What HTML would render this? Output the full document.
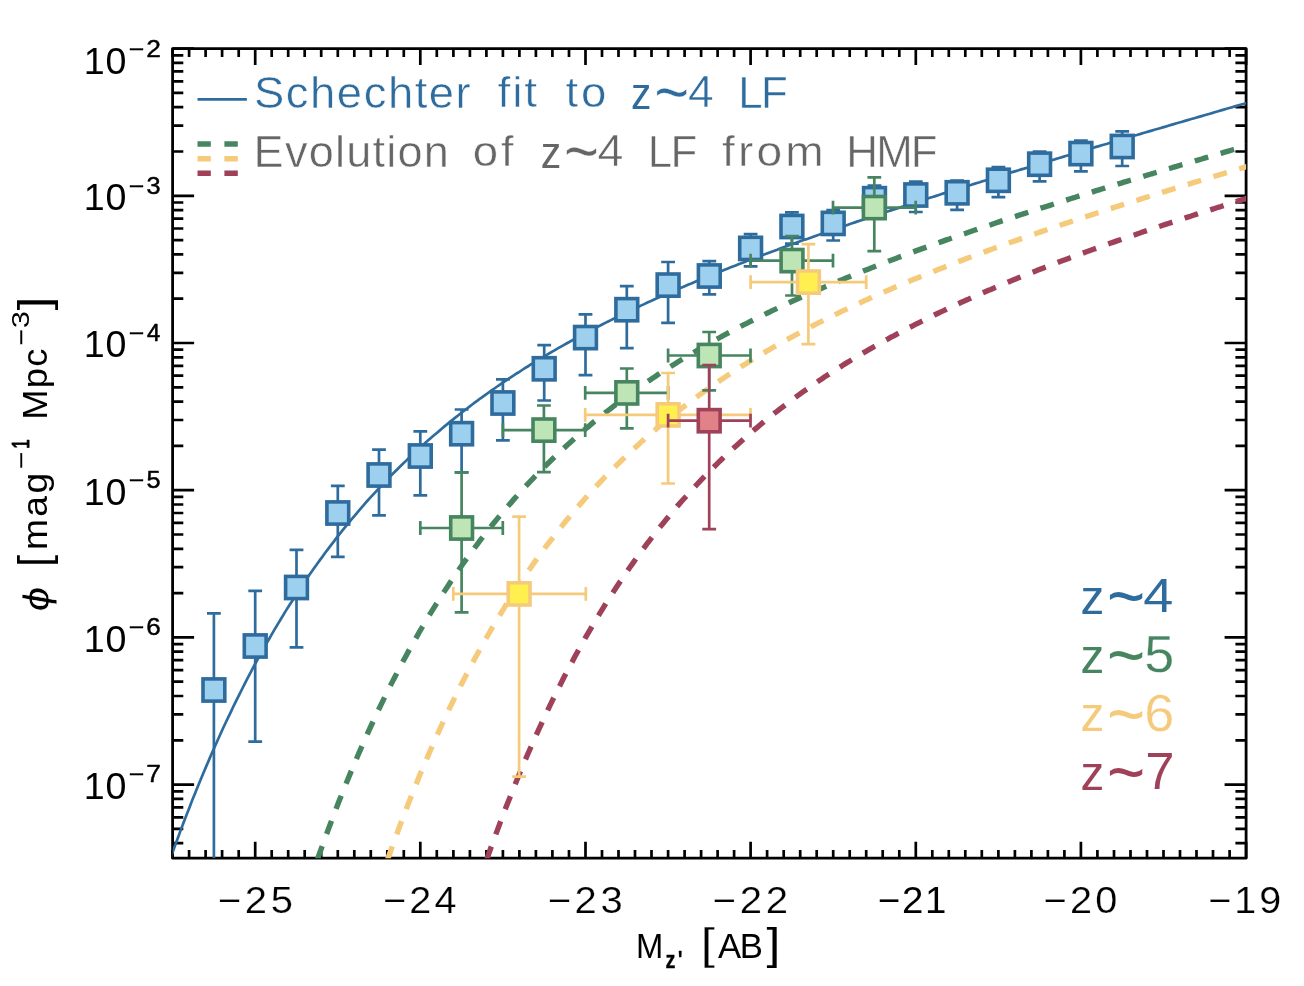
<!DOCTYPE html>
<html><head><meta charset="utf-8"><title>Luminosity function</title>
<style>html,body{margin:0;padding:0;background:#fff}svg{display:block}</style></head>
<body>
<svg width="1304" height="986" viewBox="0 0 1304 986" font-family="'Liberation Sans', sans-serif" style="font-kerning:none">
<rect width="1304" height="986" fill="#fff"/>
<defs><clipPath id="c"><rect x="172.6" y="48.6" width="1073.5" height="809.6"/></clipPath></defs>
<path d="M172.6,858.2v-8.3M172.6,48.6v8.3M189.1,858.2v-8.3M189.1,48.6v8.3M205.6,858.2v-8.3M205.6,48.6v8.3M222.1,858.2v-8.3M222.1,48.6v8.3M238.7,858.2v-8.3M238.7,48.6v8.3M255.2,858.2v-16.5M255.2,48.6v16.5M271.7,858.2v-8.3M271.7,48.6v8.3M288.2,858.2v-8.3M288.2,48.6v8.3M304.7,858.2v-8.3M304.7,48.6v8.3M321.2,858.2v-8.3M321.2,48.6v8.3M337.8,858.2v-8.3M337.8,48.6v8.3M354.3,858.2v-8.3M354.3,48.6v8.3M370.8,858.2v-8.3M370.8,48.6v8.3M387.3,858.2v-8.3M387.3,48.6v8.3M403.8,858.2v-8.3M403.8,48.6v8.3M420.3,858.2v-16.5M420.3,48.6v16.5M436.8,858.2v-8.3M436.8,48.6v8.3M453.4,858.2v-8.3M453.4,48.6v8.3M469.9,858.2v-8.3M469.9,48.6v8.3M486.4,858.2v-8.3M486.4,48.6v8.3M502.9,858.2v-8.3M502.9,48.6v8.3M519.4,858.2v-8.3M519.4,48.6v8.3M535.9,858.2v-8.3M535.9,48.6v8.3M552.4,858.2v-8.3M552.4,48.6v8.3M569.0,858.2v-8.3M569.0,48.6v8.3M585.5,858.2v-16.5M585.5,48.6v16.5M602.0,858.2v-8.3M602.0,48.6v8.3M618.5,858.2v-8.3M618.5,48.6v8.3M635.0,858.2v-8.3M635.0,48.6v8.3M651.5,858.2v-8.3M651.5,48.6v8.3M668.1,858.2v-8.3M668.1,48.6v8.3M684.6,858.2v-8.3M684.6,48.6v8.3M701.1,858.2v-8.3M701.1,48.6v8.3M717.6,858.2v-8.3M717.6,48.6v8.3M734.1,858.2v-8.3M734.1,48.6v8.3M750.6,858.2v-16.5M750.6,48.6v16.5M767.1,858.2v-8.3M767.1,48.6v8.3M783.7,858.2v-8.3M783.7,48.6v8.3M800.2,858.2v-8.3M800.2,48.6v8.3M816.7,858.2v-8.3M816.7,48.6v8.3M833.2,858.2v-8.3M833.2,48.6v8.3M849.7,858.2v-8.3M849.7,48.6v8.3M866.2,858.2v-8.3M866.2,48.6v8.3M882.7,858.2v-8.3M882.7,48.6v8.3M899.3,858.2v-8.3M899.3,48.6v8.3M915.8,858.2v-16.5M915.8,48.6v16.5M932.3,858.2v-8.3M932.3,48.6v8.3M948.8,858.2v-8.3M948.8,48.6v8.3M965.3,858.2v-8.3M965.3,48.6v8.3M981.8,858.2v-8.3M981.8,48.6v8.3M998.4,858.2v-8.3M998.4,48.6v8.3M1014.9,858.2v-8.3M1014.9,48.6v8.3M1031.4,858.2v-8.3M1031.4,48.6v8.3M1047.9,858.2v-8.3M1047.9,48.6v8.3M1064.4,858.2v-8.3M1064.4,48.6v8.3M1080.9,858.2v-16.5M1080.9,48.6v16.5M1097.4,858.2v-8.3M1097.4,48.6v8.3M1114.0,858.2v-8.3M1114.0,48.6v8.3M1130.5,858.2v-8.3M1130.5,48.6v8.3M1147.0,858.2v-8.3M1147.0,48.6v8.3M1163.5,858.2v-8.3M1163.5,48.6v8.3M1180.0,858.2v-8.3M1180.0,48.6v8.3M1196.5,858.2v-8.3M1196.5,48.6v8.3M1213.0,858.2v-8.3M1213.0,48.6v8.3M1229.6,858.2v-8.3M1229.6,48.6v8.3M1246.1,858.2v-16.5M1246.1,48.6v16.5M172.6,843.2h10.7M1246.1,843.2h-10.7M172.6,828.9h10.7M1246.1,828.9h-10.7M172.6,817.3h10.7M1246.1,817.3h-10.7M172.6,807.4h10.7M1246.1,807.4h-10.7M172.6,798.9h10.7M1246.1,798.9h-10.7M172.6,791.3h10.7M1246.1,791.3h-10.7M172.6,784.6h21.5M1246.1,784.6h-21.5M172.6,740.3h10.7M1246.1,740.3h-10.7M172.6,714.4h10.7M1246.1,714.4h-10.7M172.6,696.0h10.7M1246.1,696.0h-10.7M172.6,681.7h10.7M1246.1,681.7h-10.7M172.6,670.1h10.7M1246.1,670.1h-10.7M172.6,660.2h10.7M1246.1,660.2h-10.7M172.6,651.7h10.7M1246.1,651.7h-10.7M172.6,644.1h10.7M1246.1,644.1h-10.7M172.6,637.4h21.5M1246.1,637.4h-21.5M172.6,593.1h10.7M1246.1,593.1h-10.7M172.6,567.2h10.7M1246.1,567.2h-10.7M172.6,548.8h10.7M1246.1,548.8h-10.7M172.6,534.5h10.7M1246.1,534.5h-10.7M172.6,522.9h10.7M1246.1,522.9h-10.7M172.6,513.0h10.7M1246.1,513.0h-10.7M172.6,504.5h10.7M1246.1,504.5h-10.7M172.6,496.9h10.7M1246.1,496.9h-10.7M172.6,490.2h21.5M1246.1,490.2h-21.5M172.6,445.9h10.7M1246.1,445.9h-10.7M172.6,420.0h10.7M1246.1,420.0h-10.7M172.6,401.6h10.7M1246.1,401.6h-10.7M172.6,387.3h10.7M1246.1,387.3h-10.7M172.6,375.7h10.7M1246.1,375.7h-10.7M172.6,365.8h10.7M1246.1,365.8h-10.7M172.6,357.3h10.7M1246.1,357.3h-10.7M172.6,349.7h10.7M1246.1,349.7h-10.7M172.6,343.0h21.5M1246.1,343.0h-21.5M172.6,298.7h10.7M1246.1,298.7h-10.7M172.6,272.8h10.7M1246.1,272.8h-10.7M172.6,254.4h10.7M1246.1,254.4h-10.7M172.6,240.1h10.7M1246.1,240.1h-10.7M172.6,228.5h10.7M1246.1,228.5h-10.7M172.6,218.6h10.7M1246.1,218.6h-10.7M172.6,210.1h10.7M1246.1,210.1h-10.7M172.6,202.5h10.7M1246.1,202.5h-10.7M172.6,195.8h21.5M1246.1,195.8h-21.5M172.6,151.5h10.7M1246.1,151.5h-10.7M172.6,125.6h10.7M1246.1,125.6h-10.7M172.6,107.2h10.7M1246.1,107.2h-10.7M172.6,92.9h10.7M1246.1,92.9h-10.7M172.6,81.3h10.7M1246.1,81.3h-10.7M172.6,71.4h10.7M1246.1,71.4h-10.7M172.6,62.9h10.7M1246.1,62.9h-10.7M172.6,55.3h10.7M1246.1,55.3h-10.7M172.6,48.6h21.5M1246.1,48.6h-21.5" stroke="#000" stroke-width="2.7" fill="none"/>
<rect x="172.6" y="48.6" width="1073.5" height="809.6" fill="none" stroke="#000" stroke-width="2.8" stroke-linejoin="round"/>
<g clip-path="url(#c)" fill="none">
<path d="M156.1,900.2 L158.9,891.9 L161.6,883.7 L164.4,875.6 L167.2,867.6 L170.0,859.7 L172.7,852.0 L175.5,844.3 L178.3,836.8 L181.0,829.4 L183.8,822.0 L186.6,814.8 L189.4,807.7 L192.1,800.6 L194.9,793.7 L197.7,786.8 L200.5,780.1 L203.2,773.4 L206.0,766.9 L208.8,760.4 L211.5,754.0 L214.3,747.7 L217.1,741.5 L219.9,735.3 L222.6,729.3 L225.4,723.3 L228.2,717.4 L231.0,711.6 L233.7,705.8 L236.5,700.2 L239.3,694.6 L242.1,689.0 L244.8,683.6 L247.6,678.2 L250.4,672.9 L253.1,667.7 L255.9,662.5 L258.7,657.4 L261.5,652.4 L264.2,647.4 L267.0,642.5 L269.8,637.7 L272.6,632.9 L275.3,628.2 L278.1,623.6 L280.9,619.0 L283.7,614.4 L286.4,609.9 L289.2,605.5 L292.0,601.2 L294.7,596.8 L297.5,592.6 L300.3,588.4 L303.1,584.2 L305.8,580.1 L308.6,576.1 L311.4,572.1 L314.2,568.1 L316.9,564.2 L319.7,560.4 L322.5,556.6 L325.2,552.8 L328.0,549.1 L330.8,545.4 L333.6,541.8 L336.3,538.2 L339.1,534.7 L341.9,531.2 L344.7,527.7 L347.4,524.3 L350.2,521.0 L353.0,517.6 L355.8,514.3 L358.5,511.1 L361.3,507.9 L364.1,504.7 L366.8,501.5 L369.6,498.4 L372.4,495.4 L375.2,492.3 L377.9,489.3 L380.7,486.4 L383.5,483.4 L386.3,480.5 L389.0,477.7 L391.8,474.8 L394.6,472.0 L397.4,469.2 L400.1,466.5 L402.9,463.8 L405.7,461.1 L408.4,458.4 L411.2,455.8 L414.0,453.2 L416.8,450.7 L419.5,448.1 L422.3,445.6 L425.1,443.1 L427.9,440.6 L430.6,438.2 L433.4,435.8 L436.2,433.4 L439.0,431.1 L441.7,428.7 L444.5,426.4 L447.3,424.1 L450.0,421.8 L452.8,419.6 L455.6,417.4 L458.4,415.2 L461.1,413.0 L463.9,410.9 L466.7,408.7 L469.5,406.6 L472.2,404.5 L475.0,402.4 L477.8,400.4 L480.5,398.3 L483.3,396.3 L486.1,394.3 L488.9,392.4 L491.6,390.4 L494.4,388.5 L497.2,386.5 L500.0,384.6 L502.7,382.7 L505.5,380.9 L508.3,379.0 L511.1,377.2 L513.8,375.4 L516.6,373.5 L519.4,371.8 L522.1,370.0 L524.9,368.2 L527.7,366.5 L530.5,364.7 L533.2,363.0 L536.0,361.3 L538.8,359.6 L541.6,358.0 L544.3,356.3 L547.1,354.7 L549.9,353.0 L552.7,351.4 L555.4,349.8 L558.2,348.2 L561.0,346.6 L563.7,345.1 L566.5,343.5 L569.3,342.0 L572.1,340.4 L574.8,338.9 L577.6,337.4 L580.4,335.9 L583.2,334.4 L585.9,332.9 L588.7,331.5 L591.5,330.0 L594.2,328.5 L597.0,327.1 L599.8,325.7 L602.6,324.3 L605.3,322.9 L608.1,321.5 L610.9,320.1 L613.7,318.7 L616.4,317.3 L619.2,316.0 L622.0,314.6 L624.8,313.3 L627.5,311.9 L630.3,310.6 L633.1,309.3 L635.8,308.0 L638.6,306.7 L641.4,305.4 L644.2,304.1 L646.9,302.8 L649.7,301.6 L652.5,300.3 L655.3,299.1 L658.0,297.8 L660.8,296.6 L663.6,295.3 L666.4,294.1 L669.1,292.9 L671.9,291.7 L674.7,290.5 L677.4,289.3 L680.2,288.1 L683.0,286.9 L685.8,285.7 L688.5,284.5 L691.3,283.4 L694.1,282.2 L696.9,281.0 L699.6,279.9 L702.4,278.7 L705.2,277.6 L708.0,276.5 L710.7,275.3 L713.5,274.2 L716.3,273.1 L719.0,272.0 L721.8,270.9 L724.6,269.8 L727.4,268.7 L730.1,267.6 L732.9,266.5 L735.7,265.4 L738.5,264.3 L741.2,263.3 L744.0,262.2 L746.8,261.1 L749.5,260.1 L752.3,259.0 L755.1,257.9 L757.9,256.9 L760.6,255.9 L763.4,254.8 L766.2,253.8 L769.0,252.7 L771.7,251.7 L774.5,250.7 L777.3,249.7 L780.1,248.6 L782.8,247.6 L785.6,246.6 L788.4,245.6 L791.1,244.6 L793.9,243.6 L796.7,242.6 L799.5,241.6 L802.2,240.6 L805.0,239.6 L807.8,238.7 L810.6,237.7 L813.3,236.7 L816.1,235.7 L818.9,234.8 L821.7,233.8 L824.4,232.8 L827.2,231.9 L830.0,230.9 L832.7,229.9 L835.5,229.0 L838.3,228.0 L841.1,227.1 L843.8,226.1 L846.6,225.2 L849.4,224.2 L852.2,223.3 L854.9,222.4 L857.7,221.4 L860.5,220.5 L863.2,219.6 L866.0,218.6 L868.8,217.7 L871.6,216.8 L874.3,215.9 L877.1,214.9 L879.9,214.0 L882.7,213.1 L885.4,212.2 L888.2,211.3 L891.0,210.4 L893.8,209.5 L896.5,208.6 L899.3,207.7 L902.1,206.8 L904.8,205.9 L907.6,205.0 L910.4,204.1 L913.2,203.2 L915.9,202.3 L918.7,201.4 L921.5,200.5 L924.3,199.6 L927.0,198.7 L929.8,197.8 L932.6,197.0 L935.4,196.1 L938.1,195.2 L940.9,194.3 L943.7,193.4 L946.4,192.6 L949.2,191.7 L952.0,190.8 L954.8,190.0 L957.5,189.1 L960.3,188.2 L963.1,187.3 L965.9,186.5 L968.6,185.6 L971.4,184.8 L974.2,183.9 L977.0,183.0 L979.7,182.2 L982.5,181.3 L985.3,180.5 L988.0,179.6 L990.8,178.7 L993.6,177.9 L996.4,177.0 L999.1,176.2 L1001.9,175.3 L1004.7,174.5 L1007.5,173.6 L1010.2,172.8 L1013.0,171.9 L1015.8,171.1 L1018.5,170.3 L1021.3,169.4 L1024.1,168.6 L1026.9,167.7 L1029.6,166.9 L1032.4,166.0 L1035.2,165.2 L1038.0,164.4 L1040.7,163.5 L1043.5,162.7 L1046.3,161.9 L1049.1,161.0 L1051.8,160.2 L1054.6,159.4 L1057.4,158.5 L1060.1,157.7 L1062.9,156.9 L1065.7,156.0 L1068.5,155.2 L1071.2,154.4 L1074.0,153.5 L1076.8,152.7 L1079.6,151.9 L1082.3,151.1 L1085.1,150.2 L1087.9,149.4 L1090.7,148.6 L1093.4,147.8 L1096.2,146.9 L1099.0,146.1 L1101.7,145.3 L1104.5,144.5 L1107.3,143.7 L1110.1,142.8 L1112.8,142.0 L1115.6,141.2 L1118.4,140.4 L1121.2,139.6 L1123.9,138.8 L1126.7,137.9 L1129.5,137.1 L1132.2,136.3 L1135.0,135.5 L1137.8,134.7 L1140.6,133.9 L1143.3,133.0 L1146.1,132.2 L1148.9,131.4 L1151.7,130.6 L1154.4,129.8 L1157.2,129.0 L1160.0,128.2 L1162.8,127.4 L1165.5,126.6 L1168.3,125.7 L1171.1,124.9 L1173.8,124.1 L1176.6,123.3 L1179.4,122.5 L1182.2,121.7 L1184.9,120.9 L1187.7,120.1 L1190.5,119.3 L1193.3,118.5 L1196.0,117.7 L1198.8,116.9 L1201.6,116.1 L1204.4,115.3 L1207.1,114.5 L1209.9,113.7 L1212.7,112.9 L1215.4,112.0 L1218.2,111.2 L1221.0,110.4 L1223.8,109.6 L1226.5,108.8 L1229.3,108.0 L1232.1,107.2 L1234.9,106.4 L1237.6,105.6 L1240.4,104.8 L1243.2,104.0 L1246.0,103.2 L1248.7,102.4 L1251.5,101.6 L1254.3,100.8 L1257.0,100.0 L1259.8,99.2 L1262.6,98.4" stroke="#2f6c9e" stroke-width="2.7"/>
<path d="M300.3,910.3 L303.1,901.7 L305.8,893.3 L308.6,885.1 L311.4,876.9 L314.2,868.8 L316.9,860.9 L319.7,853.0 L322.5,845.3 L325.2,837.7 L328.0,830.2 L330.8,822.8 L333.6,815.4 L336.3,808.2 L339.1,801.1 L341.9,794.1 L344.7,787.2 L347.4,780.4 L350.2,773.6 L353.0,767.0 L355.8,760.5 L358.5,754.0 L361.3,747.6 L364.1,741.3 L366.8,735.1 L369.6,729.0 L372.4,723.0 L375.2,717.0 L377.9,711.1 L380.7,705.3 L383.5,699.6 L386.3,694.0 L389.0,688.4 L391.8,682.9 L394.6,677.5 L397.4,672.1 L400.1,666.9 L402.9,661.6 L405.7,656.5 L408.4,651.4 L411.2,646.4 L414.0,641.5 L416.8,636.6 L419.5,631.8 L422.3,627.0 L425.1,622.3 L427.9,617.7 L430.6,613.1 L433.4,608.6 L436.2,604.1 L439.0,599.7 L441.7,595.4 L444.5,591.1 L447.3,586.9 L450.0,582.7 L452.8,578.5 L455.6,574.5 L458.4,570.4 L461.1,566.5 L463.9,562.5 L466.7,558.6 L469.5,554.8 L472.2,551.0 L475.0,547.3 L477.8,543.6 L480.5,539.9 L483.3,536.3 L486.1,532.8 L488.9,529.2 L491.6,525.8 L494.4,522.3 L497.2,518.9 L500.0,515.6 L502.7,512.3 L505.5,509.0 L508.3,505.8 L511.1,502.6 L513.8,499.4 L516.6,496.3 L519.4,493.2 L522.1,490.1 L524.9,487.1 L527.7,484.1 L530.5,481.2 L533.2,478.3 L536.0,475.4 L538.8,472.5 L541.6,469.7 L544.3,466.9 L547.1,464.2 L549.9,461.5 L552.7,458.8 L555.4,456.1 L558.2,453.5 L561.0,450.9 L563.7,448.3 L566.5,445.7 L569.3,443.2 L572.1,440.7 L574.8,438.2 L577.6,435.8 L580.4,433.4 L583.2,431.0 L585.9,428.6 L588.7,426.3 L591.5,423.9 L594.2,421.6 L597.0,419.4 L599.8,417.1 L602.6,414.9 L605.3,412.7 L608.1,410.5 L610.9,408.3 L613.7,406.2 L616.4,404.1 L619.2,402.0 L622.0,399.9 L624.8,397.9 L627.5,395.8 L630.3,393.8 L633.1,391.8 L635.8,389.8 L638.6,387.9 L641.4,385.9 L644.2,384.0 L646.9,382.1 L649.7,380.2 L652.5,378.3 L655.3,376.5 L658.0,374.6 L660.8,372.8 L663.6,371.0 L666.4,369.2 L669.1,367.5 L671.9,365.7 L674.7,364.0 L677.4,362.2 L680.2,360.5 L683.0,358.8 L685.8,357.1 L688.5,355.5 L691.3,353.8 L694.1,352.2 L696.9,350.5 L699.6,348.9 L702.4,347.3 L705.2,345.7 L708.0,344.1 L710.7,342.6 L713.5,341.0 L716.3,339.5 L719.0,338.0 L721.8,336.4 L724.6,334.9 L727.4,333.4 L730.1,332.0 L732.9,330.5 L735.7,329.0 L738.5,327.6 L741.2,326.1 L744.0,324.7 L746.8,323.3 L749.5,321.9 L752.3,320.5 L755.1,319.1 L757.9,317.7 L760.6,316.3 L763.4,315.0 L766.2,313.6 L769.0,312.3 L771.7,310.9 L774.5,309.6 L777.3,308.3 L780.1,307.0 L782.8,305.7 L785.6,304.4 L788.4,303.1 L791.1,301.8 L793.9,300.6 L796.7,299.3 L799.5,298.0 L802.2,296.8 L805.0,295.6 L807.8,294.3 L810.6,293.1 L813.3,291.9 L816.1,290.7 L818.9,289.5 L821.7,288.3 L824.4,287.1 L827.2,285.9 L830.0,284.7 L832.7,283.6 L835.5,282.4 L838.3,281.2 L841.1,280.1 L843.8,278.9 L846.6,277.8 L849.4,276.7 L852.2,275.5 L854.9,274.4 L857.7,273.3 L860.5,272.2 L863.2,271.1 L866.0,270.0 L868.8,268.9 L871.6,267.8 L874.3,266.7 L877.1,265.6 L879.9,264.5 L882.7,263.4 L885.4,262.4 L888.2,261.3 L891.0,260.3 L893.8,259.2 L896.5,258.2 L899.3,257.1 L902.1,256.1 L904.8,255.0 L907.6,254.0 L910.4,253.0 L913.2,251.9 L915.9,250.9 L918.7,249.9 L921.5,248.9 L924.3,247.9 L927.0,246.9 L929.8,245.9 L932.6,244.9 L935.4,243.9 L938.1,242.9 L940.9,241.9 L943.7,240.9 L946.4,239.9 L949.2,239.0 L952.0,238.0 L954.8,237.0 L957.5,236.0 L960.3,235.1 L963.1,234.1 L965.9,233.2 L968.6,232.2 L971.4,231.2 L974.2,230.3 L977.0,229.4 L979.7,228.4 L982.5,227.5 L985.3,226.5 L988.0,225.6 L990.8,224.7 L993.6,223.7 L996.4,222.8 L999.1,221.9 L1001.9,220.9 L1004.7,220.0 L1007.5,219.1 L1010.2,218.2 L1013.0,217.3 L1015.8,216.4 L1018.5,215.4 L1021.3,214.5 L1024.1,213.6 L1026.9,212.7 L1029.6,211.8 L1032.4,210.9 L1035.2,210.0 L1038.0,209.1 L1040.7,208.2 L1043.5,207.4 L1046.3,206.5 L1049.1,205.6 L1051.8,204.7 L1054.6,203.8 L1057.4,202.9 L1060.1,202.0 L1062.9,201.2 L1065.7,200.3 L1068.5,199.4 L1071.2,198.5 L1074.0,197.7 L1076.8,196.8 L1079.6,195.9 L1082.3,195.1 L1085.1,194.2 L1087.9,193.3 L1090.7,192.5 L1093.4,191.6 L1096.2,190.7 L1099.0,189.9 L1101.7,189.0 L1104.5,188.2 L1107.3,187.3 L1110.1,186.5 L1112.8,185.6 L1115.6,184.8 L1118.4,183.9 L1121.2,183.1 L1123.9,182.2 L1126.7,181.4 L1129.5,180.5 L1132.2,179.7 L1135.0,178.9 L1137.8,178.0 L1140.6,177.2 L1143.3,176.3 L1146.1,175.5 L1148.9,174.7 L1151.7,173.8 L1154.4,173.0 L1157.2,172.2 L1160.0,171.3 L1162.8,170.5 L1165.5,169.7 L1168.3,168.8 L1171.1,168.0 L1173.8,167.2 L1176.6,166.4 L1179.4,165.5 L1182.2,164.7 L1184.9,163.9 L1187.7,163.1 L1190.5,162.2 L1193.3,161.4 L1196.0,160.6 L1198.8,159.8 L1201.6,159.0 L1204.4,158.1 L1207.1,157.3 L1209.9,156.5 L1212.7,155.7 L1215.4,154.9 L1218.2,154.1 L1221.0,153.3 L1223.8,152.4 L1226.5,151.6 L1229.3,150.8 L1232.1,150.0 L1234.9,149.2 L1237.6,148.4 L1240.4,147.6 L1243.2,146.8 L1246.0,146.0 L1248.7,145.2 L1251.5,144.4 L1254.3,143.6 L1257.0,142.8 L1259.8,141.9 L1262.6,141.1" stroke="#478560" stroke-width="5.4" stroke-dasharray="14 12.9" stroke-dashoffset="0"/>
<path d="M369.6,912.9 L372.4,904.3 L375.2,895.9 L377.9,887.6 L380.7,879.4 L383.5,871.3 L386.3,863.3 L389.0,855.5 L391.8,847.7 L394.6,840.1 L397.4,832.5 L400.1,825.1 L402.9,817.8 L405.7,810.5 L408.4,803.4 L411.2,796.4 L414.0,789.4 L416.8,782.6 L419.5,775.8 L422.3,769.2 L425.1,762.6 L427.9,756.1 L430.6,749.7 L433.4,743.4 L436.2,737.2 L439.0,731.1 L441.7,725.0 L444.5,719.0 L447.3,713.1 L450.0,707.3 L452.8,701.6 L455.6,695.9 L458.4,690.3 L461.1,684.8 L463.9,679.4 L466.7,674.0 L469.5,668.7 L472.2,663.5 L475.0,658.3 L477.8,653.2 L480.5,648.2 L483.3,643.2 L486.1,638.3 L488.9,633.5 L491.6,628.7 L494.4,624.0 L497.2,619.4 L500.0,614.8 L502.7,610.3 L505.5,605.8 L508.3,601.4 L511.1,597.0 L513.8,592.7 L516.6,588.4 L519.4,584.3 L522.1,580.1 L524.9,576.0 L527.7,572.0 L530.5,568.0 L533.2,564.0 L536.0,560.1 L538.8,556.3 L541.6,552.5 L544.3,548.8 L547.1,545.0 L549.9,541.4 L552.7,537.8 L555.4,534.2 L558.2,530.7 L561.0,527.2 L563.7,523.7 L566.5,520.3 L569.3,517.0 L572.1,513.6 L574.8,510.4 L577.6,507.1 L580.4,503.9 L583.2,500.7 L585.9,497.6 L588.7,494.5 L591.5,491.4 L594.2,488.4 L597.0,485.4 L599.8,482.5 L602.6,479.5 L605.3,476.6 L608.1,473.8 L610.9,471.0 L613.7,468.2 L616.4,465.4 L619.2,462.7 L622.0,460.0 L624.8,457.3 L627.5,454.6 L630.3,452.0 L633.1,449.4 L635.8,446.9 L638.6,444.4 L641.4,441.8 L644.2,439.4 L646.9,436.9 L649.7,434.5 L652.5,432.1 L655.3,429.7 L658.0,427.4 L660.8,425.0 L663.6,422.7 L666.4,420.5 L669.1,418.2 L671.9,416.0 L674.7,413.8 L677.4,411.6 L680.2,409.4 L683.0,407.3 L685.8,405.1 L688.5,403.0 L691.3,401.0 L694.1,398.9 L696.9,396.8 L699.6,394.8 L702.4,392.8 L705.2,390.8 L708.0,388.9 L710.7,386.9 L713.5,385.0 L716.3,383.1 L719.0,381.2 L721.8,379.3 L724.6,377.4 L727.4,375.6 L730.1,373.8 L732.9,372.0 L735.7,370.2 L738.5,368.4 L741.2,366.6 L744.0,364.9 L746.8,363.2 L749.5,361.4 L752.3,359.7 L755.1,358.0 L757.9,356.4 L760.6,354.7 L763.4,353.1 L766.2,351.4 L769.0,349.8 L771.7,348.2 L774.5,346.6 L777.3,345.0 L780.1,343.5 L782.8,341.9 L785.6,340.3 L788.4,338.8 L791.1,337.3 L793.9,335.8 L796.7,334.3 L799.5,332.8 L802.2,331.3 L805.0,329.9 L807.8,328.4 L810.6,327.0 L813.3,325.5 L816.1,324.1 L818.9,322.7 L821.7,321.3 L824.4,319.9 L827.2,318.5 L830.0,317.1 L832.7,315.8 L835.5,314.4 L838.3,313.1 L841.1,311.7 L843.8,310.4 L846.6,309.1 L849.4,307.8 L852.2,306.5 L854.9,305.2 L857.7,303.9 L860.5,302.6 L863.2,301.3 L866.0,300.1 L868.8,298.8 L871.6,297.6 L874.3,296.3 L877.1,295.1 L879.9,293.9 L882.7,292.6 L885.4,291.4 L888.2,290.2 L891.0,289.0 L893.8,287.8 L896.5,286.6 L899.3,285.5 L902.1,284.3 L904.8,283.1 L907.6,281.9 L910.4,280.8 L913.2,279.6 L915.9,278.5 L918.7,277.4 L921.5,276.2 L924.3,275.1 L927.0,274.0 L929.8,272.9 L932.6,271.8 L935.4,270.7 L938.1,269.6 L940.9,268.5 L943.7,267.4 L946.4,266.3 L949.2,265.2 L952.0,264.1 L954.8,263.1 L957.5,262.0 L960.3,260.9 L963.1,259.9 L965.9,258.8 L968.6,257.8 L971.4,256.7 L974.2,255.7 L977.0,254.7 L979.7,253.6 L982.5,252.6 L985.3,251.6 L988.0,250.6 L990.8,249.5 L993.6,248.5 L996.4,247.5 L999.1,246.5 L1001.9,245.5 L1004.7,244.5 L1007.5,243.5 L1010.2,242.5 L1013.0,241.5 L1015.8,240.6 L1018.5,239.6 L1021.3,238.6 L1024.1,237.6 L1026.9,236.7 L1029.6,235.7 L1032.4,234.7 L1035.2,233.8 L1038.0,232.8 L1040.7,231.9 L1043.5,230.9 L1046.3,230.0 L1049.1,229.0 L1051.8,228.1 L1054.6,227.1 L1057.4,226.2 L1060.1,225.2 L1062.9,224.3 L1065.7,223.4 L1068.5,222.5 L1071.2,221.5 L1074.0,220.6 L1076.8,219.7 L1079.6,218.8 L1082.3,217.8 L1085.1,216.9 L1087.9,216.0 L1090.7,215.1 L1093.4,214.2 L1096.2,213.3 L1099.0,212.4 L1101.7,211.5 L1104.5,210.6 L1107.3,209.7 L1110.1,208.8 L1112.8,207.9 L1115.6,207.0 L1118.4,206.1 L1121.2,205.2 L1123.9,204.4 L1126.7,203.5 L1129.5,202.6 L1132.2,201.7 L1135.0,200.8 L1137.8,200.0 L1140.6,199.1 L1143.3,198.2 L1146.1,197.3 L1148.9,196.5 L1151.7,195.6 L1154.4,194.7 L1157.2,193.9 L1160.0,193.0 L1162.8,192.1 L1165.5,191.3 L1168.3,190.4 L1171.1,189.6 L1173.8,188.7 L1176.6,187.8 L1179.4,187.0 L1182.2,186.1 L1184.9,185.3 L1187.7,184.4 L1190.5,183.6 L1193.3,182.7 L1196.0,181.9 L1198.8,181.0 L1201.6,180.2 L1204.4,179.4 L1207.1,178.5 L1209.9,177.7 L1212.7,176.8 L1215.4,176.0 L1218.2,175.2 L1221.0,174.3 L1223.8,173.5 L1226.5,172.6 L1229.3,171.8 L1232.1,171.0 L1234.9,170.2 L1237.6,169.3 L1240.4,168.5 L1243.2,167.7 L1246.0,166.8 L1248.7,166.0 L1251.5,165.2 L1254.3,164.4 L1257.0,163.5 L1259.8,162.7 L1262.6,161.9" stroke="#f5ca7b" stroke-width="5.4" stroke-dasharray="14 12.9" stroke-dashoffset="-2.5"/>
<path d="M469.5,910.7 L472.2,902.2 L475.0,893.8 L477.8,885.5 L480.5,877.3 L483.3,869.2 L486.1,861.3 L488.9,853.4 L491.6,845.7 L494.4,838.1 L497.2,830.6 L500.0,823.1 L502.7,815.8 L505.5,808.6 L508.3,801.5 L511.1,794.5 L513.8,787.6 L516.6,780.7 L519.4,774.0 L522.1,767.4 L524.9,760.8 L527.7,754.3 L530.5,748.0 L533.2,741.7 L536.0,735.5 L538.8,729.3 L541.6,723.3 L544.3,717.3 L547.1,711.5 L549.9,705.7 L552.7,699.9 L555.4,694.3 L558.2,688.7 L561.0,683.2 L563.7,677.8 L566.5,672.5 L569.3,667.2 L572.1,662.0 L574.8,656.8 L577.6,651.7 L580.4,646.7 L583.2,641.8 L585.9,636.9 L588.7,632.1 L591.5,627.3 L594.2,622.6 L597.0,618.0 L599.8,613.4 L602.6,608.9 L605.3,604.4 L608.1,600.0 L610.9,595.7 L613.7,591.4 L616.4,587.2 L619.2,583.0 L622.0,578.9 L624.8,574.8 L627.5,570.8 L630.3,566.8 L633.1,562.9 L635.8,559.0 L638.6,555.1 L641.4,551.4 L644.2,547.6 L646.9,543.9 L649.7,540.3 L652.5,536.7 L655.3,533.1 L658.0,529.6 L660.8,526.1 L663.6,522.7 L666.4,519.3 L669.1,516.0 L671.9,512.6 L674.7,509.4 L677.4,506.1 L680.2,502.9 L683.0,499.8 L685.8,496.7 L688.5,493.6 L691.3,490.5 L694.1,487.5 L696.9,484.5 L699.6,481.6 L702.4,478.7 L705.2,475.8 L708.0,473.0 L710.7,470.1 L713.5,467.4 L716.3,464.6 L719.0,461.9 L721.8,459.2 L724.6,456.5 L727.4,453.9 L730.1,451.3 L732.9,448.7 L735.7,446.2 L738.5,443.7 L741.2,441.2 L744.0,438.7 L746.8,436.3 L749.5,433.9 L752.3,431.5 L755.1,429.1 L757.9,426.8 L760.6,424.5 L763.4,422.2 L766.2,419.9 L769.0,417.6 L771.7,415.4 L774.5,413.2 L777.3,411.1 L780.1,408.9 L782.8,406.8 L785.6,404.7 L788.4,402.6 L791.1,400.5 L793.9,398.4 L796.7,396.4 L799.5,394.4 L802.2,392.4 L805.0,390.4 L807.8,388.5 L810.6,386.5 L813.3,384.6 L816.1,382.7 L818.9,380.8 L821.7,379.0 L824.4,377.1 L827.2,375.3 L830.0,373.5 L832.7,371.7 L835.5,369.9 L838.3,368.1 L841.1,366.4 L843.8,364.6 L846.6,362.9 L849.4,361.2 L852.2,359.5 L854.9,357.9 L857.7,356.2 L860.5,354.5 L863.2,352.9 L866.0,351.3 L868.8,349.7 L871.6,348.1 L874.3,346.5 L877.1,344.9 L879.9,343.4 L882.7,341.8 L885.4,340.3 L888.2,338.8 L891.0,337.2 L893.8,335.8 L896.5,334.3 L899.3,332.8 L902.1,331.3 L904.8,329.9 L907.6,328.4 L910.4,327.0 L913.2,325.6 L915.9,324.2 L918.7,322.8 L921.5,321.4 L924.3,320.0 L927.0,318.6 L929.8,317.2 L932.6,315.9 L935.4,314.5 L938.1,313.2 L940.9,311.9 L943.7,310.6 L946.4,309.3 L949.2,307.9 L952.0,306.7 L954.8,305.4 L957.5,304.1 L960.3,302.8 L963.1,301.6 L965.9,300.3 L968.6,299.1 L971.4,297.8 L974.2,296.6 L977.0,295.4 L979.7,294.2 L982.5,292.9 L985.3,291.7 L988.0,290.5 L990.8,289.4 L993.6,288.2 L996.4,287.0 L999.1,285.8 L1001.9,284.7 L1004.7,283.5 L1007.5,282.4 L1010.2,281.2 L1013.0,280.1 L1015.8,278.9 L1018.5,277.8 L1021.3,276.7 L1024.1,275.6 L1026.9,274.5 L1029.6,273.4 L1032.4,272.3 L1035.2,271.2 L1038.0,270.1 L1040.7,269.0 L1043.5,267.9 L1046.3,266.8 L1049.1,265.8 L1051.8,264.7 L1054.6,263.7 L1057.4,262.6 L1060.1,261.5 L1062.9,260.5 L1065.7,259.5 L1068.5,258.4 L1071.2,257.4 L1074.0,256.4 L1076.8,255.3 L1079.6,254.3 L1082.3,253.3 L1085.1,252.3 L1087.9,251.3 L1090.7,250.3 L1093.4,249.3 L1096.2,248.3 L1099.0,247.3 L1101.7,246.3 L1104.5,245.3 L1107.3,244.3 L1110.1,243.3 L1112.8,242.4 L1115.6,241.4 L1118.4,240.4 L1121.2,239.5 L1123.9,238.5 L1126.7,237.5 L1129.5,236.6 L1132.2,235.6 L1135.0,234.7 L1137.8,233.7 L1140.6,232.8 L1143.3,231.8 L1146.1,230.9 L1148.9,230.0 L1151.7,229.0 L1154.4,228.1 L1157.2,227.2 L1160.0,226.2 L1162.8,225.3 L1165.5,224.4 L1168.3,223.5 L1171.1,222.6 L1173.8,221.7 L1176.6,220.7 L1179.4,219.8 L1182.2,218.9 L1184.9,218.0 L1187.7,217.1 L1190.5,216.2 L1193.3,215.3 L1196.0,214.4 L1198.8,213.5 L1201.6,212.6 L1204.4,211.8 L1207.1,210.9 L1209.9,210.0 L1212.7,209.1 L1215.4,208.2 L1218.2,207.3 L1221.0,206.5 L1223.8,205.6 L1226.5,204.7 L1229.3,203.8 L1232.1,203.0 L1234.9,202.1 L1237.6,201.2 L1240.4,200.4 L1243.2,199.5 L1246.0,198.7 L1248.7,197.8 L1251.5,196.9 L1254.3,196.1 L1257.0,195.2 L1259.8,194.4 L1262.6,193.5" stroke="#9e4159" stroke-width="5.4" stroke-dasharray="14 12.9" stroke-dashoffset="0"/>
</g>
<g clip-path="url(#c)">
<path d="M213.9,613.3V858.2M207.0,613.3h13.8" stroke="#2f6c9e" stroke-width="2.7" fill="none"/><rect x="203.0" y="678.9" width="21.8" height="22.2" fill="#9dcfee" stroke="#2f6c9e" stroke-width="3.6"/>
<path d="M255.2,590.8V741.6M248.3,590.8h13.8M248.3,741.6h13.8" stroke="#2f6c9e" stroke-width="2.7" fill="none"/><rect x="244.3" y="634.9" width="21.8" height="22.2" fill="#9dcfee" stroke="#2f6c9e" stroke-width="3.6"/>
<path d="M296.5,549.8V647.3M289.6,549.8h13.8M289.6,647.3h13.8" stroke="#2f6c9e" stroke-width="2.7" fill="none"/><rect x="285.6" y="576.4" width="21.8" height="22.2" fill="#9dcfee" stroke="#2f6c9e" stroke-width="3.6"/>
<path d="M337.8,485.9V556.9M330.9,485.9h13.8M330.9,556.9h13.8" stroke="#2f6c9e" stroke-width="2.7" fill="none"/><rect x="326.9" y="501.9" width="21.8" height="22.2" fill="#9dcfee" stroke="#2f6c9e" stroke-width="3.6"/>
<path d="M379.0,449.6V515.3M372.1,449.6h13.8M372.1,515.3h13.8" stroke="#2f6c9e" stroke-width="2.7" fill="none"/><rect x="368.1" y="463.9" width="21.8" height="22.2" fill="#9dcfee" stroke="#2f6c9e" stroke-width="3.6"/>
<path d="M420.3,431.4V495.3M413.4,431.4h13.8M413.4,495.3h13.8" stroke="#2f6c9e" stroke-width="2.7" fill="none"/><rect x="409.4" y="444.9" width="21.8" height="22.2" fill="#9dcfee" stroke="#2f6c9e" stroke-width="3.6"/>
<path d="M461.6,409.5V472.3M454.7,409.5h13.8M454.7,472.3h13.8" stroke="#2f6c9e" stroke-width="2.7" fill="none"/><rect x="450.7" y="422.6" width="21.8" height="22.2" fill="#9dcfee" stroke="#2f6c9e" stroke-width="3.6"/>
<path d="M502.9,379.4V440.3M496.0,379.4h13.8M496.0,440.3h13.8" stroke="#2f6c9e" stroke-width="2.7" fill="none"/><rect x="492.0" y="391.9" width="21.8" height="22.2" fill="#9dcfee" stroke="#2f6c9e" stroke-width="3.6"/>
<path d="M544.2,345.2V400.5M537.3,345.2h13.8M537.3,400.5h13.8" stroke="#2f6c9e" stroke-width="2.7" fill="none"/><rect x="533.3" y="357.7" width="21.8" height="22.2" fill="#9dcfee" stroke="#2f6c9e" stroke-width="3.6"/>
<path d="M585.5,314.3V375.1M578.6,314.3h13.8M578.6,375.1h13.8" stroke="#2f6c9e" stroke-width="2.7" fill="none"/><rect x="574.6" y="326.5" width="21.8" height="22.2" fill="#9dcfee" stroke="#2f6c9e" stroke-width="3.6"/>
<path d="M626.8,286.1V348.2M619.9,286.1h13.8M619.9,348.2h13.8" stroke="#2f6c9e" stroke-width="2.7" fill="none"/><rect x="615.9" y="298.6" width="21.8" height="22.2" fill="#9dcfee" stroke="#2f6c9e" stroke-width="3.6"/>
<path d="M668.1,262.0V322.9M661.2,262.0h13.8M661.2,322.9h13.8" stroke="#2f6c9e" stroke-width="2.7" fill="none"/><rect x="657.2" y="274.0" width="21.8" height="22.2" fill="#9dcfee" stroke="#2f6c9e" stroke-width="3.6"/>
<path d="M709.3,261.2V294.3M702.4,261.2h13.8M702.4,294.3h13.8" stroke="#2f6c9e" stroke-width="2.7" fill="none"/><rect x="698.4" y="264.9" width="21.8" height="22.2" fill="#9dcfee" stroke="#2f6c9e" stroke-width="3.6"/>
<path d="M750.6,234.2V266.4M743.7,234.2h13.8M743.7,266.4h13.8" stroke="#2f6c9e" stroke-width="2.7" fill="none"/><rect x="739.7" y="237.3" width="21.8" height="22.2" fill="#9dcfee" stroke="#2f6c9e" stroke-width="3.6"/>
<path d="M791.9,212.4V243.6M785.0,212.4h13.8M785.0,243.6h13.8" stroke="#2f6c9e" stroke-width="2.7" fill="none"/><rect x="781.0" y="215.4" width="21.8" height="22.2" fill="#9dcfee" stroke="#2f6c9e" stroke-width="3.6"/>
<path d="M833.2,210.2V240.5M826.3,210.2h13.8M826.3,240.5h13.8" stroke="#2f6c9e" stroke-width="2.7" fill="none"/><rect x="822.3" y="212.3" width="21.8" height="22.2" fill="#9dcfee" stroke="#2f6c9e" stroke-width="3.6"/>
<path d="M874.5,185.5V214.0M867.6,185.5h13.8M867.6,214.0h13.8" stroke="#2f6c9e" stroke-width="2.7" fill="none"/><rect x="863.6" y="187.6" width="21.8" height="22.2" fill="#9dcfee" stroke="#2f6c9e" stroke-width="3.6"/>
<path d="M915.8,181.7V212.0M908.9,181.7h13.8M908.9,212.0h13.8" stroke="#2f6c9e" stroke-width="2.7" fill="none"/><rect x="904.9" y="183.9" width="21.8" height="22.2" fill="#9dcfee" stroke="#2f6c9e" stroke-width="3.6"/>
<path d="M957.1,180.6V209.8M950.2,180.6h13.8M950.2,209.8h13.8" stroke="#2f6c9e" stroke-width="2.7" fill="none"/><rect x="946.2" y="181.7" width="21.8" height="22.2" fill="#9dcfee" stroke="#2f6c9e" stroke-width="3.6"/>
<path d="M998.4,167.2V197.2M991.5,167.2h13.8M991.5,197.2h13.8" stroke="#2f6c9e" stroke-width="2.7" fill="none"/><rect x="987.5" y="169.2" width="21.8" height="22.2" fill="#9dcfee" stroke="#2f6c9e" stroke-width="3.6"/>
<path d="M1039.6,151.5V181.4M1032.7,151.5h13.8M1032.7,181.4h13.8" stroke="#2f6c9e" stroke-width="2.7" fill="none"/><rect x="1028.7" y="153.1" width="21.8" height="22.2" fill="#9dcfee" stroke="#2f6c9e" stroke-width="3.6"/>
<path d="M1080.9,140.6V171.3M1074.0,140.6h13.8M1074.0,171.3h13.8" stroke="#2f6c9e" stroke-width="2.7" fill="none"/><rect x="1070.0" y="142.5" width="21.8" height="22.2" fill="#9dcfee" stroke="#2f6c9e" stroke-width="3.6"/>
<path d="M1122.2,131.3V166.0M1115.3,131.3h13.8M1115.3,166.0h13.8" stroke="#2f6c9e" stroke-width="2.7" fill="none"/><rect x="1111.3" y="135.4" width="21.8" height="22.2" fill="#9dcfee" stroke="#2f6c9e" stroke-width="3.6"/>
<path d="M461.6,472.4V612.4M454.7,472.4h13.8M454.7,612.4h13.8M420.3,528.0H502.8M420.3,521.1v13.8M502.8,521.1v13.8" stroke="#478560" stroke-width="2.7" fill="none"/><rect x="450.7" y="516.9" width="21.8" height="22.2" fill="#bde5b6" stroke="#478560" stroke-width="3.6"/>
<path d="M543.9,405.5V472.1M537.0,405.5h13.8M537.0,472.1h13.8M502.9,430.1H585.2M502.9,423.2v13.8M585.2,423.2v13.8" stroke="#478560" stroke-width="2.7" fill="none"/><rect x="533.0" y="419.0" width="21.8" height="22.2" fill="#bde5b6" stroke="#478560" stroke-width="3.6"/>
<path d="M626.8,368.5V428.3M619.9,368.5h13.8M619.9,428.3h13.8M585.2,392.9H668.1M585.2,386.0v13.8M668.1,386.0v13.8" stroke="#478560" stroke-width="2.7" fill="none"/><rect x="615.9" y="381.8" width="21.8" height="22.2" fill="#bde5b6" stroke="#478560" stroke-width="3.6"/>
<path d="M709.2,332.0V390.3M702.3,332.0h13.8M702.3,390.3h13.8M668.1,355.5H750.5M668.1,348.6v13.8M750.5,348.6v13.8" stroke="#478560" stroke-width="2.7" fill="none"/><rect x="698.3" y="344.4" width="21.8" height="22.2" fill="#bde5b6" stroke="#478560" stroke-width="3.6"/>
<path d="M792.0,236.0V295.5M785.1,236.0h13.8M785.1,295.5h13.8M750.6,260.6H833.0M750.6,253.7v13.8M833.0,253.7v13.8" stroke="#478560" stroke-width="2.7" fill="none"/><rect x="781.1" y="249.5" width="21.8" height="22.2" fill="#bde5b6" stroke="#478560" stroke-width="3.6"/>
<path d="M874.3,177.4V251.1M867.4,177.4h13.8M867.4,251.1h13.8M833.0,207.6H915.7M833.0,200.7v13.8M915.7,200.7v13.8" stroke="#478560" stroke-width="2.7" fill="none"/><rect x="863.4" y="196.5" width="21.8" height="22.2" fill="#bde5b6" stroke="#478560" stroke-width="3.6"/>
<path d="M519.1,516.6V776.6M512.2,516.6h13.8M512.2,776.6h13.8M453.3,593.9H585.8M453.3,587.0v13.8M585.8,587.0v13.8" stroke="#f5ca7b" stroke-width="2.7" fill="none"/><rect x="508.2" y="582.8" width="21.8" height="22.2" fill="#fff050" stroke="#f5ca7b" stroke-width="3.6"/>
<path d="M668.1,373.0V483.5M661.2,373.0h13.8M661.2,483.5h13.8M585.2,414.9H750.5M585.2,408.0v13.8M750.5,408.0v13.8" stroke="#f5ca7b" stroke-width="2.7" fill="none"/><rect x="657.2" y="403.8" width="21.8" height="22.2" fill="#fff050" stroke="#f5ca7b" stroke-width="3.6"/>
<path d="M808.4,244.1V344.1M801.5,244.1h13.8M801.5,344.1h13.8M750.6,282.1H866.2M750.6,275.2v13.8M866.2,275.2v13.8" stroke="#f5ca7b" stroke-width="2.7" fill="none"/><rect x="797.5" y="271.0" width="21.8" height="22.2" fill="#fff050" stroke="#f5ca7b" stroke-width="3.6"/>
<path d="M709.2,365.0V529.2M702.3,365.0h13.8M702.3,529.2h13.8M668.1,420.7H750.5M668.1,413.8v13.8M750.5,413.8v13.8" stroke="#9e4159" stroke-width="2.7" fill="none"/><rect x="698.3" y="409.6" width="21.8" height="22.2" fill="#e18289" stroke="#9e4159" stroke-width="3.6"/>
</g>
<path d="M197.5,99.3H246.9" stroke="#2f6c9e" stroke-width="2.7"/>
<path d="M197.5,144h13.3M224.4,144h13.4" stroke="#478560" stroke-width="5.5"/>
<path d="M197.5,158.7h13.3M224.4,158.7h13.4" stroke="#f5ca7b" stroke-width="5.5"/>
<path d="M197.5,173.3h13.3M224.4,173.3h13.4" stroke="#9e4159" stroke-width="5.5"/>
<text transform="translate(256.10,107.50) scale(1.043,1)" x="-1.98" y="0" font-size="43.5" fill="#2f6c9e" letter-spacing="1.49" stroke="#fff" stroke-width="0.53">Schechter</text>
<text transform="translate(498.10,107.00) scale(1.076,1)" x="-0.61" y="0" font-size="43" fill="#2f6c9e" letter-spacing="1.72" stroke="#fff" stroke-width="0.54">fit</text>
<text transform="translate(566.10,107.30) scale(1.060,1)" x="-0.65" y="0" font-size="43" fill="#2f6c9e" letter-spacing="2.83" stroke="#fff" stroke-width="0.51">to</text>
<text transform="translate(632.60,109.00) scale(0.937,1)" x="-1.76" y="0" font-size="43.5" fill="#2f6c9e">z</text>
<text transform="translate(656.80,115.89) scale(0.882,1)" x="-3.04" y="0" font-size="67.7" fill="#2f6c9e" stroke="#fff" stroke-width="0.4">~</text>
<text transform="translate(689.00,106.80) scale(1.053,1)" x="-1.01" y="0" font-size="43.9" fill="#2f6c9e" stroke="#fff" stroke-width="0.58">4</text>
<text transform="translate(741.90,107.80) scale(0.975,1)" x="-3.69" y="0" font-size="45" fill="#2f6c9e" letter-spacing="-1.80" stroke="#fff" stroke-width="0.55">LF</text>
<text transform="translate(257.30,166.60) scale(1.037,1)" x="-3.57" y="0" font-size="43.5" fill="#666666" letter-spacing="1.16" stroke="#fff" stroke-width="0.52">Evolution</text>
<text transform="translate(474.60,166.40) scale(1.060,1)" x="-1.81" y="0" font-size="43" fill="#666666" letter-spacing="2.88" stroke="#fff" stroke-width="0.51">of</text>
<text transform="translate(542.50,168.10) scale(0.943,1)" x="-1.76" y="0" font-size="43.5" fill="#666666">z</text>
<text transform="translate(566.70,174.99) scale(0.884,1)" x="-3.04" y="0" font-size="67.7" fill="#666666" stroke="#fff" stroke-width="0.4">~</text>
<text transform="translate(598.60,165.90) scale(1.062,1)" x="-1.01" y="0" font-size="43.9" fill="#666666" stroke="#fff" stroke-width="0.60">4</text>
<text transform="translate(651.30,166.90) scale(0.976,1)" x="-3.69" y="0" font-size="45" fill="#666666" letter-spacing="-1.73" stroke="#fff" stroke-width="0.55">LF</text>
<text transform="translate(722.60,166.10) scale(1.075,1)" x="-0.61" y="0" font-size="43" fill="#666666" letter-spacing="2.89" stroke="#fff" stroke-width="0.53">from</text>
<text transform="translate(849.90,166.90) scale(0.974,1)" x="-3.69" y="0" font-size="45" fill="#666666" letter-spacing="-1.87" stroke="#fff" stroke-width="0.54">HMF</text>
<text transform="translate(1082.50,613.60) scale(0.981,1)" x="-1.97" y="0" font-size="48.5" fill="#2f6c9e">z</text>
<text transform="translate(1109.90,620.76) scale(0.899,1)" x="-3.27" y="0" font-size="72.8" fill="#2f6c9e">~</text>
<text transform="translate(1144.60,611.70) scale(1.102,1)" x="-1.12" y="0" font-size="49" fill="#2f6c9e">4</text>
<text transform="translate(1082.50,672.50) scale(0.981,1)" x="-1.97" y="0" font-size="48.5" fill="#478560">z</text>
<text transform="translate(1109.90,679.66) scale(0.899,1)" x="-3.27" y="0" font-size="72.8" fill="#478560">~</text>
<text transform="translate(1146.40,672.10) scale(1.038,1)" x="-2.08" y="0" font-size="52" fill="#478560" stroke="#fff" stroke-width="0.27">5</text>
<text transform="translate(1082.50,731.40) scale(0.981,1)" x="-1.97" y="0" font-size="48.5" fill="#f5ca7b">z</text>
<text transform="translate(1109.90,738.56) scale(0.899,1)" x="-3.27" y="0" font-size="72.8" fill="#f5ca7b">~</text>
<text transform="translate(1147.00,730.90) scale(1.034,1)" x="-2.66" y="0" font-size="52.4" fill="#f5ca7b" stroke="#fff" stroke-width="0.30">6</text>
<text transform="translate(1082.50,790.30) scale(0.981,1)" x="-1.97" y="0" font-size="48.5" fill="#9e4159">z</text>
<text transform="translate(1109.90,797.46) scale(0.899,1)" x="-3.27" y="0" font-size="72.8" fill="#9e4159">~</text>
<text transform="translate(1147.90,788.80) scale(1.017,1)" x="-2.65" y="0" font-size="51.7" fill="#9e4159">7</text>
<text transform="translate(219.70,913.00) scale(1.082,1)" x="-1.82" y="0" font-size="37" fill="#000" letter-spacing="3.36" stroke="#fff" stroke-width="0.23">−25</text>
<text transform="translate(384.90,913.00) scale(1.071,1)" x="-1.82" y="0" font-size="37" fill="#000" letter-spacing="2.98" stroke="#fff" stroke-width="0.22">−24</text>
<text transform="translate(549.60,913.00) scale(1.081,1)" x="-1.82" y="0" font-size="37" fill="#000" letter-spacing="3.33" stroke="#fff" stroke-width="0.23">−23</text>
<text transform="translate(714.40,913.00) scale(1.085,1)" x="-1.82" y="0" font-size="37" fill="#000" letter-spacing="3.46" stroke="#fff" stroke-width="0.24">−22</text>
<text transform="translate(879.70,913.00) scale(1.038,1)" x="-1.82" y="0" font-size="37" fill="#000" letter-spacing="1.64">−21</text>
<text transform="translate(1045.50,913.00) scale(1.072,1)" x="-1.82" y="0" font-size="37" fill="#000" letter-spacing="3.00" stroke="#fff" stroke-width="0.22">−20</text>
<text transform="translate(1210.20,913.00) scale(1.067,1)" x="-1.82" y="0" font-size="37" fill="#000" letter-spacing="2.79" stroke="#fff" stroke-width="0.21">−19</text>
<text transform="translate(86.50,73.60) scale(1.017,1)" x="-2.82" y="0" font-size="37" fill="#000" letter-spacing="0.95">10</text>
<text transform="translate(130.00,57.00) scale(1.163,1)" x="-1.13" y="0" font-size="23" fill="#000" stroke="#000" stroke-width="0.38" stroke-linejoin="round">−</text>
<text transform="translate(147.50,57.00) scale(1.145,1)" x="-1.16" y="0" font-size="23" fill="#000" stroke="#000" stroke-width="0.40" stroke-linejoin="round">2</text>
<text transform="translate(86.50,210.20) scale(1.017,1)" x="-2.82" y="0" font-size="37" fill="#000" letter-spacing="0.95">10</text>
<text transform="translate(130.00,193.60) scale(1.163,1)" x="-1.13" y="0" font-size="23" fill="#000" stroke="#000" stroke-width="0.38" stroke-linejoin="round">−</text>
<text transform="translate(147.50,193.60) scale(1.100,1)" x="-0.88" y="0" font-size="23" fill="#000" stroke="#000" stroke-width="0.45" stroke-linejoin="round">3</text>
<text transform="translate(86.50,357.40) scale(1.017,1)" x="-2.82" y="0" font-size="37" fill="#000" letter-spacing="0.95">10</text>
<text transform="translate(130.00,340.80) scale(1.163,1)" x="-1.13" y="0" font-size="23" fill="#000" stroke="#000" stroke-width="0.38" stroke-linejoin="round">−</text>
<text transform="translate(147.50,340.80) scale(1.035,1)" x="-0.53" y="0" font-size="23" fill="#000" stroke="#000" stroke-width="0.54" stroke-linejoin="round">4</text>
<text transform="translate(86.50,504.60) scale(1.017,1)" x="-2.82" y="0" font-size="37" fill="#000" letter-spacing="0.95">10</text>
<text transform="translate(130.00,488.00) scale(1.163,1)" x="-1.13" y="0" font-size="23" fill="#000" stroke="#000" stroke-width="0.38" stroke-linejoin="round">−</text>
<text transform="translate(147.50,488.00) scale(1.100,1)" x="-0.92" y="0" font-size="23" fill="#000" stroke="#000" stroke-width="0.45" stroke-linejoin="round">5</text>
<text transform="translate(86.50,651.80) scale(1.017,1)" x="-2.82" y="0" font-size="37" fill="#000" letter-spacing="0.95">10</text>
<text transform="translate(130.00,635.20) scale(1.163,1)" x="-1.13" y="0" font-size="23" fill="#000" stroke="#000" stroke-width="0.38" stroke-linejoin="round">−</text>
<text transform="translate(147.50,635.20) scale(1.131,1)" x="-1.17" y="0" font-size="23" fill="#000" stroke="#000" stroke-width="0.42" stroke-linejoin="round">6</text>
<text transform="translate(86.50,799.00) scale(1.017,1)" x="-2.82" y="0" font-size="37" fill="#000" letter-spacing="0.95">10</text>
<text transform="translate(130.00,782.40) scale(1.163,1)" x="-1.13" y="0" font-size="23" fill="#000" stroke="#000" stroke-width="0.38" stroke-linejoin="round">−</text>
<text transform="translate(147.50,782.40) scale(1.148,1)" x="-1.18" y="0" font-size="23" fill="#000" stroke="#000" stroke-width="0.40" stroke-linejoin="round">7</text>
<text transform="translate(638.80,957.90) scale(0.922,1)" x="-2.91" y="0" font-size="35.5" fill="#000">M</text>
<text transform="translate(666.30,968.30) scale(0.826,1)" x="-0.96" y="0" font-size="24" fill="#000" font-weight="bold" stroke="#000" stroke-width="0.37" stroke-linejoin="round">z</text>
<text transform="translate(679.00,968.30) scale(0.750,1)" x="-1.28" y="0" font-size="24" fill="#000" font-weight="bold" stroke="#000" stroke-width="0.53" stroke-linejoin="round">'</text>
<text transform="translate(704.30,959.10) scale(1.145,1)" x="-3.17" y="0" font-size="44.4" fill="#000" stroke="#fff" stroke-width="0.26">[</text>
<text transform="translate(718.10,957.90) scale(0.979,1)" x="-0.07" y="0" font-size="35.5" fill="#000" letter-spacing="-1.48">AB</text>
<text transform="translate(767.00,959.10) scale(1.111,1)" x="-0.35" y="0" font-size="44.4" fill="#000">]</text>
<g transform="translate(48.8,610.2) rotate(-90)"><text transform="translate(0.00,0.00) scale(0.862,1)" x="-1.25" y="0" font-size="37.5" fill="#000" font-weight="bold" font-style="italic" stroke="#fff" stroke-width="0.87">ϕ</text></g>
<g transform="translate(48.599999999999994,563.9) rotate(-90)"><text transform="translate(0.00,0.00) scale(0.986,1)" x="-3.17" y="0" font-size="44.4" fill="#000">[</text></g>
<g transform="translate(47.3,547.5) rotate(-90)"><text transform="translate(0.00,0.00) scale(1.048,1)" x="-2.36" y="0" font-size="35.5" fill="#000" letter-spacing="2.23">mag</text></g>
<g transform="translate(28.999999999999996,467.6) rotate(-90)"><text transform="translate(0.00,0.00) scale(1.298,1)" x="-1.13" y="0" font-size="23" fill="#000" stroke="#000" stroke-width="0.23" stroke-linejoin="round">−</text></g>
<g transform="translate(28.999999999999996,447.5) rotate(-90)"><text transform="translate(0.00,0.00) scale(0.750,1)" x="-1.75" y="0" font-size="23" fill="#000" stroke="#000" stroke-width="0.97" stroke-linejoin="round">1</text></g>
<g transform="translate(47.3,416.7) rotate(-90)"><text transform="translate(0.00,0.00) scale(1.025,1)" x="-2.91" y="0" font-size="35.5" fill="#000" letter-spacing="1.17">Mpc</text></g>
<g transform="translate(28.999999999999996,343.8) rotate(-90)"><text transform="translate(0.00,0.00) scale(1.190,1)" x="-1.13" y="0" font-size="23" fill="#000" stroke="#000" stroke-width="0.35" stroke-linejoin="round">−</text></g>
<g transform="translate(28.999999999999996,327) rotate(-90)"><text transform="translate(0.00,0.00) scale(1.339,1)" x="-0.88" y="0" font-size="23" fill="#000">3</text></g>
<g transform="translate(48.599999999999994,309.8) rotate(-90)"><text transform="translate(0.00,0.00) scale(1.077,1)" x="-0.35" y="0" font-size="44.4" fill="#000">]</text></g>
</svg>
</body></html>
